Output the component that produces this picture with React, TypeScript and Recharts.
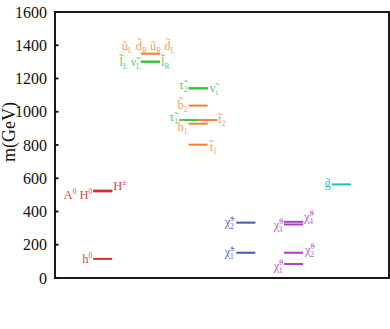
import { ComposedChart, Line, Scatter, XAxis, YAxis, ReferenceArea } from "recharts"

// one entry per drawn mass level (GeV)
const levelIds = ["h0", "AH", "Hpm", "sq", "slL", "slR", "tau2", "nutau", "b2", "t2", "tau1", "b1", "t1", "C1", "C2", "N1", "N2", "N3", "N4", "go"]
const levelMasses = [115, 521, 526, 1349, 1301, 1301, 1141, 1141, 1037, 950, 950, 928, 802, 152, 333, 84, 152, 322, 338, 563]
const levelColumns = [1, 1, 1, 2, 2, 2, 3, 3, 3, 3, 3, 3, 3, 4, 4, 5, 5, 5, 5, 6]
const levelKinds = [
  "higgs", "higgs", "higgs", "squark", "slepton", "slepton", "slepton", "slepton", "squark", "squark",
  "slepton", "squark", "squark", "chargino", "chargino", "neutralino", "neutralino", "neutralino", "neutralino", "gluino",
]
// "~" = tilde over previous char, ^ = superscript, _ = subscript
const levelLabels = [
  "h^0", "A^0 H^0", "H^±", "u~_L d~_R u~_R d~_L", "l~_L ν~_L", "l~_R", "τ~_2", "ν~_τ", "b~_2", "t~_2",
  "τ~_1", "b~_1", "t~_1", "χ~^±_1", "χ~^±_2", "χ~^0_1", "χ~^0_2", "χ~^0_3", "χ~^0_4", "g~",
]
const yTicks = [0, 200, 400, 600, 800, 1000, 1200, 1400, 1600]

const HALF = 0.2
const FONT = "'Liberation Serif', 'Times New Roman', serif"

const colors: Record<string, [string, string]> = {
  higgs: ["#cc3333", "#d44a4a"],
  squark: ["#f47f35", "#f59d63"],
  slepton: ["#35c335", "#5ccd5c"],
  chargino: ["#4656b2", "#5867c0"],
  neutralino: ["#ad3fc6", "#b95ccf"],
  gluino: ["#1fbcc6", "#34c3cc"],
}

// x shift for levels that sit side by side
const shift: Record<string, number> = { tau1: -0.2, t2: 0.2 }

// label side (l / r / c = above), pixel nudges
const place: Record<string, [string, number, number]> = {
  h0: ["l", -1, 4],
  AH: ["l", -1, 8],
  Hpm: ["r", 1, -1],
  sq: ["c", -2, -4],
  slL: ["l", 0, 4],
  slR: ["r", 1, 4],
  tau2: ["l", -1, 1],
  nutau: ["r", 2, 4],
  b2: ["l", -1, 3],
  t2: ["r", 1, 3],
  tau1: ["l", -1, 1],
  b1: ["l", -1, 7],
  t1: ["r", 2, 6],
  C1: ["l", -2, 3],
  C2: ["l", -2, 3],
  N1: ["l", -1, 6],
  N2: ["r", 2, 1],
  N3: ["l", -1, 5],
  N4: ["r", 1, -1],
  go: ["l", -1, 3],
}

const levels = levelIds.map((id, i) => {
  const c = levelColumns[i] + (shift[id] || 0)
  const m = levelMasses[i]
  return { id, kind: levelKinds[i], data: [{ x: c - HALF, m }, { x: c + HALF, m }] }
})

const labelData = levelIds.map((id, i) => {
  const c = levelColumns[i] + (shift[id] || 0)
  const side = place[id][0]
  return {
    id,
    x: side === "l" ? c - HALF : side === "r" ? c + HALF : c,
    m: levelMasses[i],
    text: levelLabels[i],
    kind: levelKinds[i],
  }
})

function renderTokens(text: string) {
  const out: any[] = []
  let cur = 0
  text.split(" ").forEach((tok, i) => {
    const m = tok.match(/^([^\^_]+)(?:\^([^_]+))?(?:_(.+))?$/)
    if (!m) return
    const base = m[1].replace(/~/g, "\u0303")
    out.push(<tspan key={i + "b"} dx={i ? 3 : 0} dy={-cur} fontSize={12.5}>{base}</tspan>)
    cur = 0
    if (m[2]) {
      out.push(<tspan key={i + "p"} fontSize={7.5} dy={-5}>{m[2]}</tspan>)
      cur = -5
    }
    if (m[3]) {
      out.push(<tspan key={i + "s"} fontSize={7.5} dx={m[2] ? -4.2 : 0} dy={3 - cur}>{m[3]}</tspan>)
      cur = 3
    }
  })
  return out
}

const LabelMark = (props: any) => {
  const { cx, cy, payload } = props
  const [side, dx, dy] = place[payload.id]
  const anchor = side === "l" ? "end" : side === "r" ? "start" : "middle"
  return (
    <text x={cx + dx} y={cy + dy} textAnchor={anchor} fontFamily={FONT} fill={colors[payload.kind][1]}>
      {renderTokens(payload.text)}
    </text>
  )
}

const LeftTick = (props: any) => {
  const { x, y, payload } = props
  return (
    <g>
      <text x={x - 8} y={y} dy={5.5} textAnchor="end" fontFamily={FONT} fontSize={16} fill="#111">
        {payload.value}
      </text>
      <line x1={x} x2={x + 3.5} y1={y} y2={y} stroke="#111" strokeWidth={1.8} />
    </g>
  )
}

const RightTick = (props: any) => {
  const { x, y } = props
  return <line x1={x - 3.5} x2={x} y1={y} y2={y} stroke="#111" strokeWidth={1.8} />
}

const YLabel = (props: any) => {
  const vb = props.viewBox || { x: 0, y: 12, width: 55, height: 266 }
  const cx = vb.x + 15
  const cy = vb.y + vb.height / 2 - 13
  return (
    <text transform={`translate(${cx},${cy}) rotate(-90)`} textAnchor="middle" fontFamily={FONT} fontSize={18} fill="#111">
      m(GeV)
    </text>
  )
}

export default function App() {
  return (
    <div style={{ width: 390, height: 329 }}>
      <style>{"body{margin:0}"}</style>
      <ComposedChart width={390} height={329} margin={{ top: 12, right: 1, bottom: 51, left: 0 }}>
        <XAxis xAxisId="b" type="number" dataKey="x" domain={[0, 7]} hide />
        <YAxis
          yAxisId="l"
          type="number"
          dataKey="m"
          domain={[0, 1600]}
          ticks={yTicks}
          width={55}
          tickSize={0}
          tickMargin={0}
          axisLine={false}
          tick={<LeftTick />}
          label={<YLabel />}
        />
        <YAxis
          yAxisId="r"
          orientation="right"
          type="number"
          dataKey="m"
          domain={[0, 1600]}
          ticks={yTicks}
          width={0}
          tickSize={0}
          tickMargin={0}
          axisLine={false}
          tick={<RightTick />}
        />
        <ReferenceArea xAxisId="b" yAxisId="l" x1={0} x2={7} y1={0} y2={1600} fill="none" stroke="#1a1a1a" strokeWidth={2} strokeOpacity={1} />
        {levels.map((lv) => (
          <Line
            key={lv.id}
            xAxisId="b"
            yAxisId="l"
            data={lv.data}
            dataKey="m"
            stroke={colors[lv.kind][0]}
            strokeWidth={2}
            dot={false}
            activeDot={false}
            isAnimationActive={false}
          />
        ))}
        <Scatter xAxisId="b" yAxisId="r" data={labelData} dataKey="m" shape={<LabelMark />} isAnimationActive={false} />
      </ComposedChart>
    </div>
  )
}
